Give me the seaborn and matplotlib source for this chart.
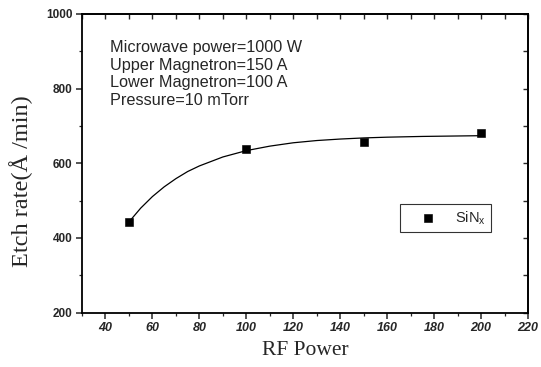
import matplotlib
matplotlib.use("Agg")
import matplotlib.pyplot as plt
import seaborn as sns
import pandas as pd
from matplotlib.ticker import MultipleLocator

# Measured data
rf_power = [50, 100, 150, 200]
etch_rate = [443, 638, 656, 682]

# Fitted curve
fit_x = [50, 55, 60, 65, 70, 75, 80, 90, 100, 110, 120, 130, 140, 150, 160, 175, 200]
fit_y = [443, 480, 511, 537, 559, 578, 593, 617, 634, 646, 655, 661, 665, 668, 670, 672, 674]

x_ticks = [40, 60, 80, 100, 120, 140, 160, 180, 200, 220]
y_ticks = [200, 400, 600, 800, 1000]
conditions = ["Microwave power=1000 W", "Upper Magnetron=150 A",
              "Lower Magnetron=100 A", "Pressure=10 mTorr"]
series_label = "SiN$_{\\mathregular{x}}$"

sns.set_style("ticks")
plt.rcParams["font.family"] = ["Liberation Sans", "DejaVu Sans"]

fig = plt.figure(figsize=(5.41, 3.67), dpi=100)
ax = fig.add_axes([0.1516, 0.148, 0.976 - 0.1516, 0.962 - 0.148])

df_pts = pd.DataFrame({"x": rf_power, "y": etch_rate})
df_fit = pd.DataFrame({"x": fit_x, "y": fit_y})

sns.lineplot(data=df_fit, x="x", y="y", ax=ax, color="black", lw=0.9)
sns.scatterplot(data=df_pts, x="x", y="y", ax=ax, marker="s", s=28,
                color="black", edgecolor="black", label=series_label, zorder=3)

ax.set_xlim(30, 220)
ax.set_ylim(200, 1000)
ax.set_xticks(x_ticks)
ax.set_yticks(y_ticks)
ax.xaxis.set_minor_locator(MultipleLocator(10))
ax.yaxis.set_minor_locator(MultipleLocator(100))
ax.set_xticklabels([str(v) for v in x_ticks], fontsize=9, fontweight="bold", fontstyle="italic")
ax.set_yticklabels([str(v) for v in y_ticks], fontsize=8.5, fontweight="bold")

for s in ax.spines.values():
    s.set_visible(True)
    s.set_linewidth(1.3)
    s.set_color("black")

ax.tick_params(which="major", direction="out", length=4, width=1.1, top=False, right=False)
ax.tick_params(which="minor", direction="out", length=2.5, width=0.9, top=False, right=False)
ax.tick_params(axis="x", pad=3)
ax.tick_params(axis="y", pad=3)

# inward ticks on top and right
ax_top = ax.secondary_xaxis("top")
ax_top.set_xticks(x_ticks)
ax_top.xaxis.set_minor_locator(MultipleLocator(10))
ax_top.tick_params(which="both", direction="in", length=3.5, width=1.0, labeltop=False)
ax_top.spines["top"].set_linewidth(1.3)
ax_right = ax.secondary_yaxis("right")
ax_right.set_yticks(y_ticks)
ax_right.yaxis.set_minor_locator(MultipleLocator(100))
ax_right.tick_params(which="both", direction="in", length=3.5, width=1.0, labelright=False)
ax_right.spines["right"].set_linewidth(1.3)

ax.set_xlabel("RF Power", family=["Liberation Serif", "DejaVu Serif"], fontsize=15.5, labelpad=5)
ax.set_ylabel("Etch rate(Å /min)", family=["Liberation Serif", "DejaVu Serif"], fontsize=17.5)
ax.yaxis.set_label_coords(-0.11, 0.44)

for i, t in enumerate(conditions):
    ax.text(0.062, 0.888 - i * 0.059, t, transform=ax.transAxes, fontsize=11.7,
            va="center", ha="left")

leg = ax.legend(loc="upper left", bbox_to_anchor=(0.713, 0.364), frameon=True,
                borderaxespad=0, fancybox=False, edgecolor="black", fontsize=10.5,
                handletextpad=0.2, borderpad=0.35, handlelength=3.2, markerscale=1.0)
leg.get_frame().set_linewidth(0.8)

fig.savefig("out.png", dpi=100)
